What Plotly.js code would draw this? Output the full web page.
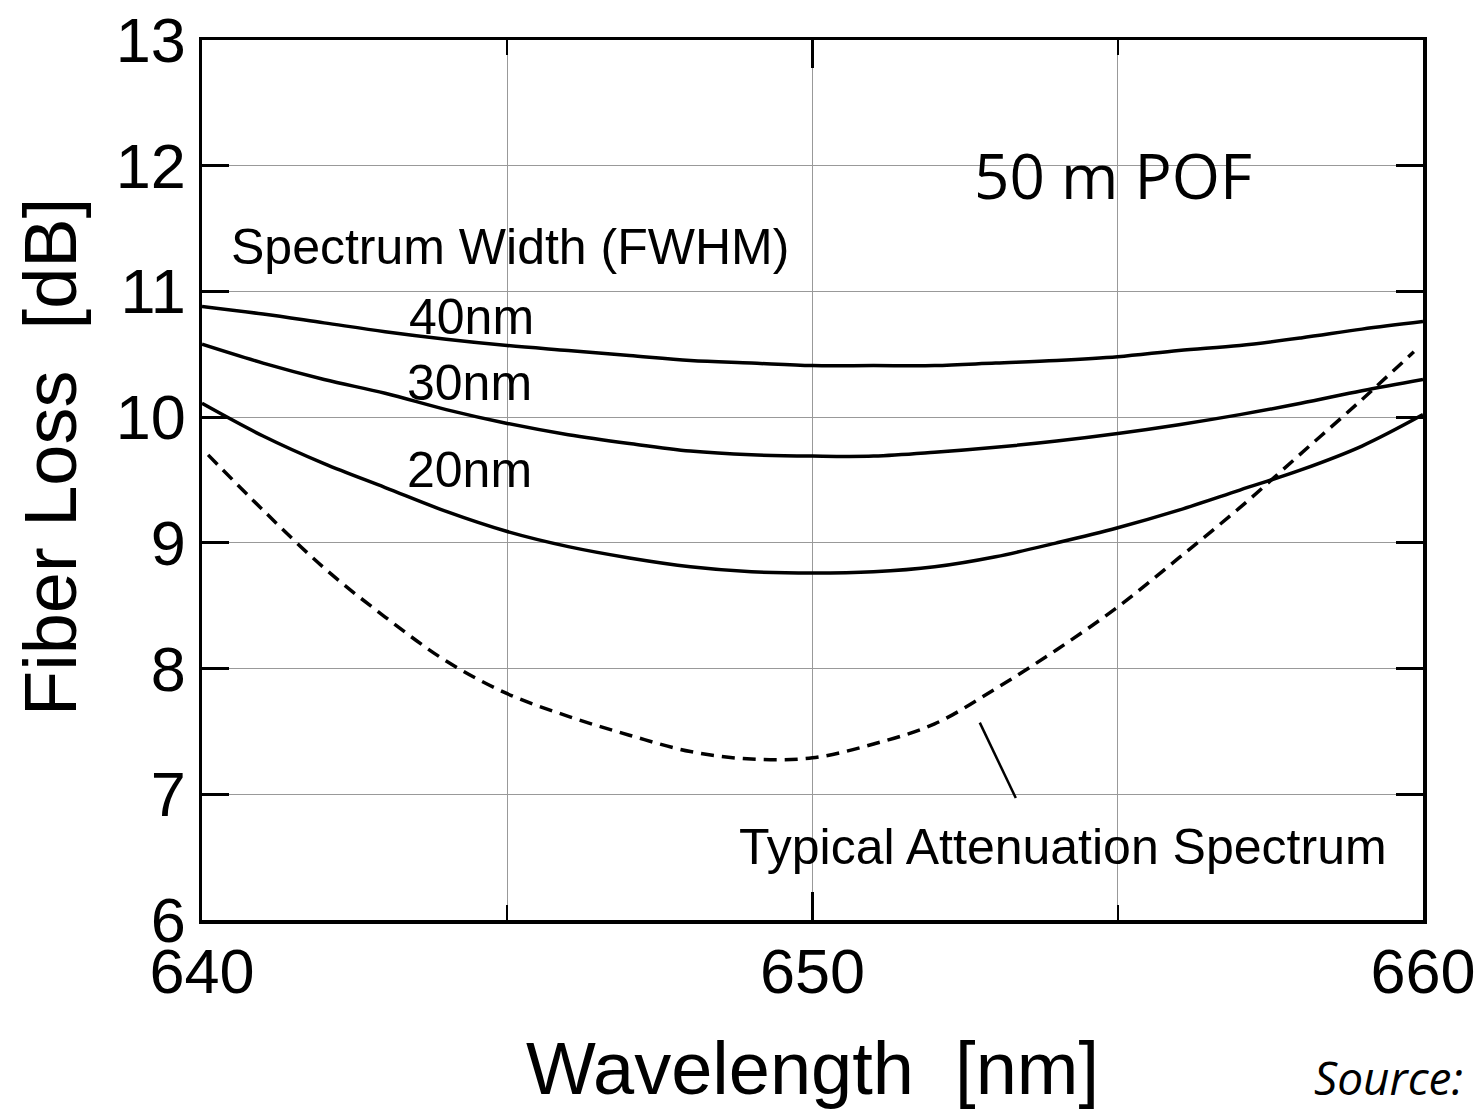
<!DOCTYPE html>
<html>
<head>
<meta charset="utf-8">
<script src="https://cdn.plot.ly/plotly-3.0.1.min.js"></script>
<style>html,body{margin:0;padding:0;background:#fff;}#chart{width:1483px;height:1110px;}</style>
</head>
<body>
<div id="chart"></div>
<script>
// wavelength samples [nm]
const wavelength = [640,641,642,643,644,645,646,647,648,649,650,651,652,653,654,655,656,657,658,659,660];
// fiber loss for source spectrum widths (FWHM) [dB]
const loss40nm = [10.88,10.82,10.75,10.68,10.62,10.57,10.53,10.49,10.45,10.43,10.41,10.41,10.41,10.43,10.45,10.48,10.53,10.57,10.63,10.70,10.76];
const loss30nm = [10.58,10.43,10.30,10.19,10.06,9.95,9.86,9.79,9.73,9.70,9.69,9.69,9.72,9.76,9.81,9.87,9.94,10.02,10.11,10.21,10.30];
const loss20nm = [10.11,9.85,9.63,9.44,9.25,9.09,8.97,8.88,8.81,8.77,8.76,8.77,8.81,8.89,9.00,9.12,9.26,9.42,9.58,9.77,10.02];
// typical attenuation spectrum
const attenX = [640.1,641,642,643,644,645,646,647,648,649,650,651,652,653,654,655,656,657,658,659,659.85];
const attenY = [9.70,9.26,8.80,8.41,8.06,7.80,7.62,7.47,7.34,7.28,7.29,7.40,7.56,7.84,8.15,8.49,8.88,9.28,9.71,10.14,10.52];
// leader line for the attenuation label
const leaderX = [652.74,653.33];
const leaderY = [7.57,6.97];
// axis ticks
const xTicks = [640,650,660];
const yTicks = [6,7,8,9,10,11,12,13];
// curve labels
const labelText = ['40nm','30nm','20nm'];
const labelX = [644.41,644.38,644.38];
const labelY = [10.80,10.27,9.58];

const lineStyle = {color:'#000', width:3.5};
const traces = [
  {x:wavelength, y:loss40nm, name:'40nm', mode:'lines', line:Object.assign({shape:'spline'}, lineStyle)},
  {x:wavelength, y:loss30nm, name:'30nm', mode:'lines', line:Object.assign({shape:'spline'}, lineStyle)},
  {x:wavelength, y:loss20nm, name:'20nm', mode:'lines', line:Object.assign({shape:'spline'}, lineStyle)},
  {x:attenX, y:attenY, name:'Typical Attenuation Spectrum', mode:'lines', line:{color:'#000', width:3.5, dash:'13px,8px', shape:'spline'}},
  {x:leaderX, y:leaderY, mode:'lines', line:{color:'#000', width:2.5}, hoverinfo:'skip'}
];

const F = 'Liberation Sans, Arial, sans-serif';
const W=1483, H=1110, mL=202, mR=60, mT=40, mB=190;
const pw = W-mL-mR, ph = H-mT-mB;
const annotations = labelText.map((t,i)=>({x:labelX[i], y:labelY[i], xref:'x', yref:'y', text:t, showarrow:false, xanchor:'center', yanchor:'middle', font:{family:F, size:50, color:'#000'}}));
annotations.push(
  {x:645.05, y:11.35, xref:'x', yref:'y', text:'Spectrum Width (FWHM)', showarrow:false, xanchor:'center', yanchor:'middle', font:{family:F, size:50, color:'#000'}},
  {x:654.1, y:6.58, xref:'x', yref:'y', text:'Typical Attenuation Spectrum', showarrow:false, xanchor:'center', yanchor:'middle', font:{family:F, size:50, color:'#000'}},
  {x:654.93, y:11.93, xref:'x', yref:'y', text:'50 m POF', showarrow:false, xanchor:'center', yanchor:'middle', font:{family:'Open Sans, sans-serif', size:62, color:'#000'}},
  {x:(50-mL)/pw, y:(H-mB-457)/ph, xref:'paper', yref:'paper', text:'Fiber Loss\u00A0 [dB]', textangle:-90, showarrow:false, xanchor:'center', yanchor:'middle', font:{family:F, size:74, color:'#000'}},
  {x:(1388-mL)/pw, y:(H-mB-1077)/ph, xref:'paper', yref:'paper', text:'<i>Source:</i>', showarrow:false, xanchor:'center', yanchor:'middle', font:{family:'Open Sans, sans-serif', size:46, color:'#000', style:'italic'}}
);

const layout = {
  width:W, height:H,
  margin:{l:mL, r:mR, t:mT, b:mB},
  paper_bgcolor:'#fff', plot_bgcolor:'#fff',
  showlegend:false,
  font:{family:F, color:'#000'},
  xaxis:{
    range:[640,660], tickvals:xTicks, ticktext:xTicks.map(String),
    ticks:'inside', ticklen:28, tickwidth:3, tickcolor:'#000',
    showline:true, linecolor:'#000', linewidth:3.5, mirror:'ticks',
    showgrid:true, gridcolor:'#999', gridwidth:1, zeroline:false,
    minor:{dtick:5, tick0:640, ticks:'inside', ticklen:15, tickwidth:2, tickcolor:'#000', showgrid:true, gridcolor:'#999', gridwidth:1},
    tickfont:{family:F, size:63, color:'#000'},
    ticklabelstandoff:-6,
    title:{text:'Wavelength\u00A0 [nm]', font:{family:F, size:74, color:'#000'}, standoff:38}
  },
  yaxis:{
    range:[6,13], tickvals:yTicks, ticktext:yTicks.map(String),
    ticks:'inside', ticklen:27, tickwidth:3, tickcolor:'#000',
    showline:true, linecolor:'#000', linewidth:3.5, mirror:'ticks',
    showgrid:true, gridcolor:'#999', gridwidth:1, zeroline:false,
    tickfont:{family:F, size:63, color:'#000'}
  },
  annotations:annotations
};
Plotly.newPlot('chart', traces, layout, {displayModeBar:false, staticPlot:true});
</script>
</body>
</html>
